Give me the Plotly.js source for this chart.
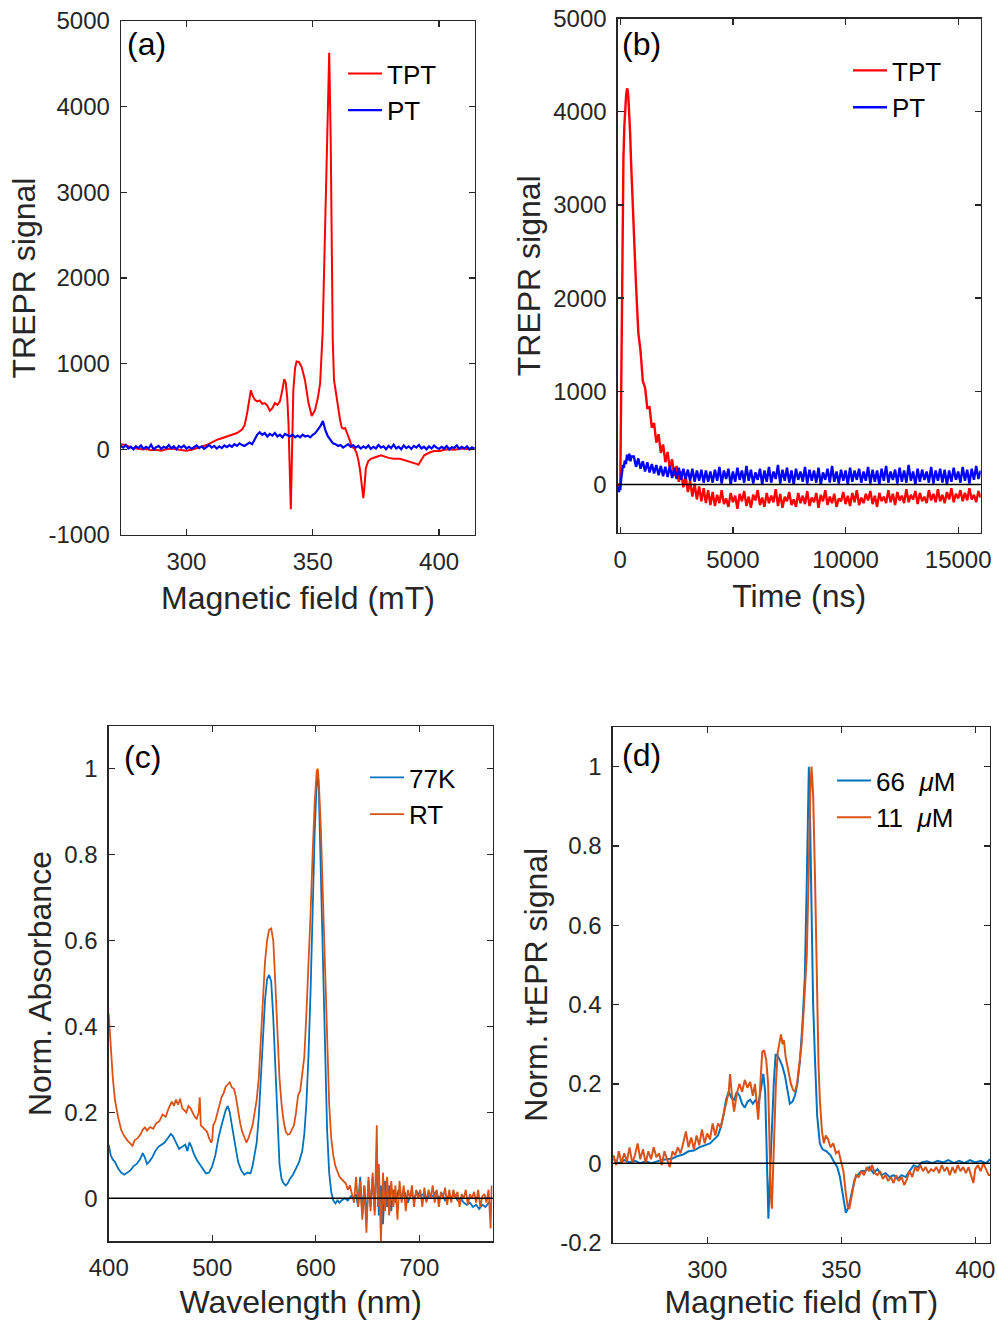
<!DOCTYPE html>
<html><head><meta charset="utf-8">
<script src="https://cdn.plot.ly/plotly-3.0.1.min.js"></script>
<style>html,body{margin:0;padding:0;background:#fff}#chart{width:997px;height:1320px}</style>
</head><body><div id="chart"></div>
<script>
// ---------- Panel (a): TREPR spectra ----------
const aTptField = [
 274,276,278,280,282,284,286,288,290,292,
 294,296,298,300,302,304,306,308,310,312,
 314,316,318,320,322,323,324,325,325.5,326,
 327,328,329,330,331,332,333,334,335,336,
 337,338,338.7,339.3,339.9,340.4,340.8,341.0,341.3,341.6,
 342.0,342.3,343.0,343.6,344.5,345.6,346.9,348.3,349.6,350.9,
 352,352.9,353.9,354.8,355.5,356,356.5,357.1,357.5,357.9,
 358.4,359.5,360.8,361.5,362.2,362.8,363.5,364.1,364.8,365.4,
 366.5,367.3,368.0,368.7,369.4,370.0,370.5,371.0,371.9,373,
 375,377,380,382,384.5,387,389,391,391.8,393,
 394.1,396,398,400.3,403,406,409,412,414];
const aTptSignal = [
 60,50,20,10,0,5,-10,-5,-15,0,
 10,0,-10,-15,-5,10,30,50,80,110,
 130,150,170,190,230,280,420,620,690,640,
 580,560,570,530,540,510,450,480,540,520,
 560,700,820,780,600,300,-200,-600,-700,-300,
 300,690,950,1025,1020,960,810,540,390,460,
 600,770,1360,2450,3600,4200,4630,3600,2450,1280,
 810,580,344,250,240,247,200,150,90,33,
 10,-40,-120,-240,-420,-570,-420,-220,-140,-110,
 -90,-70,-100,-110,-110,-130,-150,-170,-180,-120,
 -70,-40,-20,-20,0,-5,10,0,5];
const aPtField = [
 274,275,276,277,278,279,280,281,282,283,
 284,285,286,287,288,289,290,291,292,293,
 294,295,296,297,298,299,300,301,302,303,
 304,305,306,307,308,309,310,311,312,313,
 314,315,316,317,318,319,320,321,322,323,
 324,325,326,327,328,329,330,331,332,333,
 334,335,336,337,338,339,340,341,342,343,
 344,345,346,347,348,349,350,351,352,353,
 354,355,356,357,358,359,360,361,362,363,
 364,365,366,367,368,369,370,371,372,373,
 374,375,376,377,378,379,380,381,382,383,
 384,385,386,387,388,389,390,391,392,393,
 394,395,396,397,398,399,400,401,402,403,
 404,405,406,407,408,409,410,411,412,413,414];
const aPtSignal = [
 40,20,50,10,30,0,35,15,45,5,
 30,10,55,0,25,40,5,30,15,50,
 10,35,0,40,20,45,10,30,5,25,
 45,15,35,5,30,50,20,40,10,35,
 15,45,25,50,30,60,40,70,50,40,
 60,80,60,110,170,200,170,190,150,180,
 160,190,150,170,140,180,160,150,170,140,
 160,140,170,150,160,140,170,190,230,270,
 330,220,150,110,70,60,40,50,20,40,
 60,30,50,20,40,10,35,15,45,5,
 30,10,50,20,35,0,40,15,55,10,
 30,0,45,15,35,5,40,20,50,10,
 30,0,35,10,45,20,5,30,10,40,
 0,25,15,45,5,30,10,35,0,25,10];

// ---------- Panel (b): TREPR transients ----------
const bTptTime = [
 -100,-50,0,30,60,100,140,180,220,260,
 300,330,360,400,440,480,500,600,700,800,
 900,1000,1100,1200,1300,1400,1500,1600,1700,1800,
 1900,2000,2100,2200,2300,2400,2500,2600,2700,2800,
 2900,3000,3100,3200,3300,3400,3500,3600,3700,3800,
 3900,4000,
 4100,4200,4300,4400,4500,4600,4700,4800,4900,5000,
 5100,5200,5300,5400,5500,5600,5700,5800,5900,6000,
 6100,6200,6300,6400,6500,6600,6700,6800,6900,7000,
 7100,7200,7300,7400,7500,7600,7700,7800,7900,8000,
 8100,8200,8300,8400,8500,8600,8700,8800,8900,9000,
 9100,9200,9300,9400,9500,9600,9700,9800,9900,10000,
 10100,10200,10300,10400,10500,10600,10700,10800,10900,11000,
 11100,11200,11300,11400,11500,11600,11700,11800,11900,12000,
 12100,12200,12300,12400,12500,12600,12700,12800,12900,13000,
 13100,13200,13300,13400,13500,13600,13700,13800,13900,14000,
 14100,14200,14300,14400,14500,14600,14700,14800,14900,15000,
 15100,15200,15300,15400,15500,15600,15700,15800,15900,16000];
const bTptSignal = [
 10,-20,0,800,2000,2900,3500,3850,4050,4180,
 4250,4230,4150,4000,3750,3450,3330,2600,2130,1630,
 1430,1110,1040,820,830,610,660,450,540,340,
 430,240,350,170,270,90,200,30,140,-30,
 90,-80,40,-130,10,-160,-20,-180,-40,-200,
 -60,-220,
 -80,-230,-110,-200,-60,-210,-150,-240,-90,-190,
 -120,-260,-100,-180,-70,-230,-130,-250,-110,-170,
 -60,-220,-140,-240,-90,-200,-120,-190,-50,-230,
 -100,-250,-130,-180,-80,-220,-160,-240,-90,-200,
 -120,-210,-70,-230,-140,-190,-90,-250,-110,-180,
 -60,-220,-130,-200,-100,-240,-150,-180,-80,-210,
 -120,-230,-90,-190,-60,-220,-140,-200,-100,-170,
 -70,-210,-120,-240,-90,-180,-130,-200,-60,-190,
 -100,-220,-80,-170,-120,-200,-50,-190,-110,-160,
 -70,-210,-90,-180,-130,-200,-60,-170,-100,-190,
 -50,-180,-110,-200,-80,-160,-40,-190,-100,-150,
 -60,-180,-90,-170,-40,-160,-110,-190,-70,-140];
const bPtTime = [
 -100,-60,-30,0,40,80,120,160,200,250,
 300,350,400,450,500,
 600,700,800,900,1000,1100,1200,1300,1400,1500,
 1600,1700,1800,1900,2000,2100,2200,2300,2400,2500,
 2600,2700,2800,2900,3000,3100,3200,3300,3400,3500,
 3600,3700,3800,3900,4000,
 4100,4200,4300,4400,4500,4600,4700,4800,4900,5000,
 5100,5200,5300,5400,5500,5600,5700,5800,5900,6000,
 6100,6200,6300,6400,6500,6600,6700,6800,6900,7000,
 7100,7200,7300,7400,7500,7600,7700,7800,7900,8000,
 8100,8200,8300,8400,8500,8600,8700,8800,8900,9000,
 9100,9200,9300,9400,9500,9600,9700,9800,9900,10000,
 10100,10200,10300,10400,10500,10600,10700,10800,10900,11000,
 11100,11200,11300,11400,11500,11600,11700,11800,11900,12000,
 12100,12200,12300,12400,12500,12600,12700,12800,12900,13000,
 13100,13200,13300,13400,13500,13600,13700,13800,13900,14000,
 14100,14200,14300,14400,14500,14600,14700,14800,14900,15000,
 15100,15200,15300,15400,15500,15600,15700,15800,15900,16000];
const bPtSignal = [
 -20,-80,-40,-60,60,150,210,180,260,220,
 320,260,330,250,300,
 300,190,280,170,250,140,240,130,220,120,
 210,100,200,90,190,80,200,70,180,60,
 180,50,170,60,160,40,170,30,150,40,
 160,20,150,30,140,
 20,160,40,190,10,150,60,170,0,140,
 30,180,50,150,20,200,40,160,10,130,
 50,170,0,150,30,190,20,140,60,210,
 10,160,40,180,20,150,0,170,50,140,
 30,190,10,160,40,150,20,180,0,130,
 50,170,20,200,30,140,10,160,40,150,
 0,180,30,150,50,170,20,140,40,190,
 10,160,30,150,0,170,40,200,20,140,
 50,160,10,180,30,150,20,210,40,140,
 0,170,30,160,50,140,20,190,10,150,
 40,170,20,160,0,150,30,180,50,140,
 20,190,40,160,10,170,50,200,60,150];

// ---------- Panel (c): absorbance ----------
const cRtWl = [
 400,402,404,406,409,412,415,418,421,423,
 425,428,431,433,435,437,440,443,446,449,
 452,455,458,461,463,465,467,469,471,473,
 475,477,479,481,483,485,487,488,489,491,
 493,495,497,499,500,501,503,505,507,509,
 511,513,515,517,519,521,523,525,527,529,
 531,533,535,537,539,541,543,545,547,549,
 551,553,555,557,559,561,563,565,567,569,
 571,573,575,577,579,581,583,585,587,589,
 591,593,595,597,599,601,602,603,605,607,
 609,611,613,615,617,619,621,623,625,627,
 629,631,633,635,637,639,641,643,645,647,
 649,651,653,655,657,659,660,661,662,663,
 665,667,669,671,673,675,677,679,681,683,
 685,687,689,691,693,695,697,699,701,703,
 705,707,709,711,713,715,717,719,721,723,
 725,727,729,731,733,735,737,739,741,743,
 745,747,749,751,753,755,757,759,761,763,
 765,767,769,770];
const cRtAbs = [
 0.43,0.35,0.28,0.23,0.19,0.16,0.145,0.135,0.128,0.122,
 0.135,0.14,0.15,0.16,0.165,0.158,0.166,0.162,0.175,0.18,
 0.195,0.19,0.21,0.225,0.215,0.23,0.218,0.232,0.21,0.205,
 0.2,0.215,0.21,0.2,0.19,0.185,0.2,0.235,0.17,0.165,
 0.16,0.155,0.14,0.13,0.135,0.17,0.18,0.2,0.22,0.235,
 0.245,0.26,0.265,0.27,0.258,0.255,0.235,0.2,0.175,0.155,
 0.14,0.13,0.14,0.155,0.17,0.2,0.23,0.28,0.38,0.48,
 0.55,0.6,0.625,0.628,0.6,0.5,0.38,0.28,0.22,0.18,
 0.155,0.148,0.15,0.16,0.17,0.2,0.24,0.25,0.29,0.33,
 0.43,0.53,0.66,0.8,0.92,0.995,1.0,0.97,0.86,0.7,
 0.52,0.35,0.22,0.14,0.1,0.075,0.06,0.05,0.045,0.04,
 0.035,0.02,0.03,0.01,-0.01,0.05,-0.02,0.04,-0.05,0.03,
 -0.08,0.05,-0.03,0.06,-0.04,0.17,-0.02,0.08,-0.04,-0.1,
 0.06,-0.03,0.05,-0.04,0.04,-0.02,0.03,-0.05,0.04,-0.01,
 0.03,-0.03,0.02,0.0,0.03,-0.02,0.02,0.0,0.02,-0.02,
 0.025,-0.01,0.02,0.0,0.03,-0.01,0.02,-0.02,0.015,0.0,
 0.025,-0.015,0.02,-0.01,0.02,0.0,0.015,-0.02,0.01,0.0,
 0.02,-0.015,0.01,0.0,0.015,-0.01,0.02,-0.02,0.005,0.01,
 -0.01,0.02,-0.07,0.03];
const c77Wl = [
 400,402,404,406,409,412,415,418,421,424,
 427,430,433,435,437,439,442,445,448,451,
 454,457,460,462,464,466,468,471,474,476,
 478,480,482,485,488,491,494,497,500,503,
 506,509,511,513,515,517,519,521,523,525,
 528,531,534,537,539,541,543,545,547,549,
 551,553,555,557,559,561,563,565,567,569,
 571,573,575,578,581,584,587,589,591,593,
 595,597,599,601,602,603,605,607,609,611,
 613,615,617,619,621,623,625,628,631,634,
 637,639,641,643,645,647,649,651,653,655,
 657,659,661,663,665,667,669,671,673,675,
 677,680,683,686,689,692,695,698,701,704,
 707,710,713,716,719,722,725,728,731,734,
 737,740,743,746,749,752,755,758,761,764,
 767,770];
const c77Abs = [
 0.125,0.1,0.09,0.085,0.07,0.06,0.055,0.06,0.065,0.075,
 0.08,0.09,0.105,0.095,0.08,0.085,0.095,0.11,0.12,0.125,
 0.13,0.14,0.15,0.145,0.135,0.125,0.115,0.12,0.125,0.11,
 0.13,0.12,0.105,0.09,0.08,0.07,0.058,0.06,0.075,0.1,
 0.14,0.17,0.19,0.205,0.215,0.2,0.17,0.14,0.11,0.085,
 0.065,0.055,0.06,0.058,0.075,0.1,0.13,0.19,0.27,0.37,
 0.46,0.51,0.52,0.505,0.42,0.3,0.17,0.08,0.045,0.035,
 0.03,0.035,0.045,0.055,0.07,0.085,0.11,0.15,0.22,0.33,
 0.48,0.67,0.85,0.97,0.99,0.95,0.76,0.55,0.33,0.16,
 0.06,0.015,-0.005,-0.012,-0.005,-0.01,-0.005,0.0,-0.005,0.005,
 0.0,0.01,-0.02,0.05,-0.04,0.03,-0.05,0.04,-0.02,0.05,
 -0.03,0.09,-0.04,0.03,-0.06,0.04,-0.02,0.03,-0.03,0.02,
 -0.01,0.02,0.0,0.015,-0.01,0.01,0.0,0.015,0.005,0.01,
 -0.005,0.01,0.005,0.015,0.0,0.01,-0.005,0.005,0.0,0.01,
 -0.005,0.0,-0.01,-0.015,-0.01,-0.02,-0.015,-0.025,-0.015,-0.02,
 -0.01,-0.015];

// ---------- Panel (d): normalised trEPR ----------
const d66Field = [
 265,267,269,271,273,275,277,279,281,283,
 285,287,289,291,293,295,297,299,301,302.5,
 304,305,306,307,308,309,310,311,312,313,
 314,315,316,317,318,319,320,320.9,321.6,322.2,
 322.8,323.3,324,324.8,325.5,326.3,327.1,328,329,330,
 330.8,331.8,332.7,333.6,334.6,335.5,336.4,337.1,337.6,337.9,
 338.4,338.9,339.5,340.2,341,342,343,344.5,346,347,
 348.5,349.5,350.5,351.7,352.8,353.9,355,356,357.5,359,
 360.5,362,363.5,365,366.5,368,369.5,371,372.5,374,
 375.5,377,378.5,380,382,384,386,388,390,392,
 394,396,398,400,402,404,405.5];
const d66Signal = [
 0.01,0.0,0.008,0.002,0.006,0.0,0.005,0.0,0.004,0.008,
 0.01,0.012,0.018,0.022,0.03,0.032,0.04,0.045,0.05,0.06,
 0.07,0.09,0.12,0.16,0.18,0.165,0.16,0.18,0.17,0.15,
 0.14,0.155,0.16,0.15,0.16,0.145,0.19,0.225,0.18,0.05,
 -0.14,-0.05,0.07,0.2,0.275,0.27,0.26,0.245,0.22,0.18,
 0.15,0.155,0.17,0.2,0.26,0.35,0.47,0.7,0.95,1.0,
 0.85,0.6,0.4,0.26,0.12,0.05,0.035,0.03,0.02,0.007,
 -0.01,-0.035,-0.08,-0.125,-0.11,-0.07,-0.04,-0.03,-0.02,-0.02,
 -0.01,-0.025,-0.015,-0.03,-0.025,-0.035,-0.03,-0.04,-0.03,-0.035,
 -0.02,-0.005,-0.01,0.002,0.005,0.0,0.006,0.002,0.008,0.0,
 0.006,0.0,0.008,0.002,0.006,0.0,0.01];
const d11Field = [
 265,266,267,268,269,270,271,272,273,274,
 275,276,277,278,279,280,281,282,283,284,
 285,286,287,288,289,290,291,292,293,294,
 295,296,297,298,299,300,301,302,303,304,
 305,306,307,308,308.5,309.2,310,311,312,313,
 314,315,316,317,317.8,318.5,319,319.8,320.5,321.2,
 322,322.7,323.2,323.7,324.1,324.5,325,325.6,326.3,327,
 327.5,328.1,328.6,329.2,329.8,330.5,331.2,332,332.7,333.5,
 334.3,335.2,336.1,337.1,337.8,338.4,338.9,339.5,340.2,340.9,
 341.5,342,342.8,343.5,344.2,345.1,346,347,348,349,
 350,350.8,351.6,352.4,353,353.6,354.5,355.5,356.5,357.5,
 358.5,359.5,360.5,361.5,362.5,363.5,364.5,365.5,366.5,367.5,
 368.5,369.5,370.5,371.5,372.5,373.5,374.5,375.5,376.5,377.5,
 378.5,379.5,380.5,381.5,382.5,383.5,384.5,385.5,386.5,387.5,
 388.5,389.5,390.5,391.5,392.5,393.5,394.5,395.5,396.5,397.5,
 398.5,399.3,400,401,402,403,404,405,405.5];
const d11Signal = [
 0.02,-0.005,0.03,0.0,0.025,0.005,0.04,0.0,0.02,0.05,
 0.01,0.035,0.0,0.03,0.01,0.04,0.015,0.025,-0.005,0.03,
 0.01,-0.01,0.03,0.02,0.04,0.025,0.05,0.08,0.04,0.065,
 0.035,0.07,0.045,0.085,0.05,0.075,0.06,0.1,0.07,0.1,
 0.09,0.12,0.15,0.18,0.225,0.17,0.13,0.175,0.2,0.18,
 0.21,0.19,0.205,0.17,0.2,0.14,0.11,0.2,0.28,0.285,
 0.26,0.2,0.05,-0.08,-0.115,-0.03,0.08,0.2,0.28,0.31,
 0.325,0.3,0.31,0.27,0.25,0.22,0.2,0.185,0.18,0.2,
 0.25,0.3,0.4,0.52,0.72,0.93,1.0,0.93,0.72,0.45,
 0.25,0.16,0.08,0.05,0.07,0.06,0.04,0.05,0.025,0.03,
 0.005,-0.02,-0.07,-0.11,-0.115,-0.09,-0.06,-0.03,-0.035,-0.02,
 -0.03,-0.01,-0.02,-0.005,-0.025,-0.03,-0.02,-0.04,-0.03,-0.045,
 -0.035,-0.05,-0.03,-0.045,-0.035,-0.055,-0.04,-0.02,-0.035,-0.01,
 -0.02,-0.005,-0.02,-0.01,-0.025,-0.015,-0.02,-0.01,-0.025,-0.005,
 -0.02,-0.01,-0.03,-0.01,-0.025,-0.005,-0.02,-0.01,-0.025,-0.01,
 -0.03,-0.05,-0.015,-0.005,-0.02,0.0,-0.015,-0.03,-0.03];

// ---------- tick labels / names ----------
const aYTicks = [-1000,0,1000,2000,3000,4000,5000];
const aYTickText = ['-1000','0','1000','2000','3000','4000','5000'];
const aXTicks = [300,350,400];
const bYTicks = [0,1000,2000,3000,4000,5000];
const bXTicks = [0,5000,10000,15000];
const bXTickText = ['0','5000','10000','15000'];
const cYTicks = [0,0.2,0.4,0.6,0.8,1];
const cXTicks = [400,500,600,700];
const dYTicks = [-0.2,0,0.2,0.4,0.6,0.8,1];
const dYTickText = ['-0.2','0','0.2','0.4','0.6','0.8','1'];
const dXTicks = [300,350,400];
const seriesNames = {tpt:'TPT', pt:'PT', k77:'77K', rt:'RT',
  c66:'66\u00a0\u00a0<i>\u03bc</i>M', c11:'11\u00a0\u00a0<i>\u03bc</i>M'};

// ---------- layout ----------
const W = 997, H = 1320;
const FONT = 'Liberation Sans, Arial, Helvetica, sans-serif';
const INK = '#262626';
const RED = '#ff0000', BLUE = '#0000ff', MBLUE = '#0072bd', MORANGE = '#d95319';

function dx(a, b) { return [a / W, b / W]; }
function dy(top, bottom) { return [1 - bottom / H, 1 - top / H]; }

function axis(extra) {
  return Object.assign({
    showline: true, mirror: 'ticks', linecolor: INK, linewidth: 1.3,
    ticks: 'inside', ticklen: 6, tickwidth: 1.3, tickcolor: INK,
    showgrid: false, zeroline: false, automargin: false,
    tickfont: {family: FONT, size: 24, color: INK},
    ticklabelstandoff: 5, tickmode: 'array'
  }, extra);
}
function ttl(text, standoff) {
  return {text: text, standoff: standoff, font: {family: FONT, size: 32, color: INK}};
}

const traces = [
  {x: aTptField, y: aTptSignal, xaxis: 'x', yaxis: 'y', name: seriesNames.tpt, legend: 'legend',
   mode: 'lines', line: {color: RED, width: 2}},
  {x: aPtField, y: aPtSignal, xaxis: 'x', yaxis: 'y', name: seriesNames.pt, legend: 'legend',
   mode: 'lines', line: {color: BLUE, width: 2.2}},
  {x: bTptTime, y: bTptSignal, xaxis: 'x2', yaxis: 'y2', name: seriesNames.tpt, legend: 'legend2',
   mode: 'lines', line: {color: RED, width: 2.4}},
  {x: bPtTime, y: bPtSignal, xaxis: 'x2', yaxis: 'y2', name: seriesNames.pt, legend: 'legend2',
   mode: 'lines', line: {color: BLUE, width: 2.4}},
  {x: c77Wl, y: c77Abs, xaxis: 'x3', yaxis: 'y3', name: seriesNames.k77, legend: 'legend3',
   mode: 'lines', line: {color: MBLUE, width: 1.8}},
  {x: cRtWl, y: cRtAbs, xaxis: 'x3', yaxis: 'y3', name: seriesNames.rt, legend: 'legend3',
   mode: 'lines', line: {color: MORANGE, width: 1.8}},
  {x: d66Field, y: d66Signal, xaxis: 'x4', yaxis: 'y4', name: seriesNames.c66, legend: 'legend4',
   mode: 'lines', line: {color: MBLUE, width: 2}},
  {x: d11Field, y: d11Signal, xaxis: 'x4', yaxis: 'y4', name: seriesNames.c11, legend: 'legend4',
   mode: 'lines', line: {color: MORANGE, width: 2}}
];

function leg(left, top) {
  return {x: left / W, y: 1 - top / H, xanchor: 'left', yanchor: 'top',
    bgcolor: 'rgba(0,0,0,0)', borderwidth: 0, itemwidth: 34,
    font: {family: FONT, size: 26, color: '#000'}, tracegroupgap: 0};
}
function label(text, left, midY) {
  return {text: text, xref: 'paper', yref: 'paper', x: left / W, y: 1 - midY / H,
    xanchor: 'left', yanchor: 'middle', showarrow: false,
    font: {family: FONT, size: 32, color: '#000'}};
}
function zeroLine(xa, ya) {
  return {type: 'line', xref: xa + ' domain', yref: ya, x0: 0, x1: 1, y0: 0, y1: 0,
    line: {color: '#000', width: 1.5}, layer: 'above'};
}

const layout = {
  width: W, height: H, margin: {l: 0, r: 0, t: 0, b: 0},
  paper_bgcolor: '#fff', plot_bgcolor: '#fff', font: {family: FONT, color: INK},
  xaxis: axis({domain: dx(121, 475), range: [274.1, 414.2], tickvals: aXTicks, anchor: 'y',
    title: ttl('Magnetic field (mT)', 12)}),
  yaxis: axis({domain: dy(21, 535), range: [-1000, 5000], tickvals: aYTicks, ticktext: aYTickText, anchor: 'x',
    title: ttl('TREPR signal', 3)}),
  xaxis2: axis({domain: dx(617.7, 980.7), range: [-115, 16000], tickvals: bXTicks, ticktext: bXTickText, anchor: 'y2',
    title: ttl('Time (ns)', 12)}),
  yaxis2: axis({domain: dy(18.5, 533), range: [-520, 5000], tickvals: bYTicks, anchor: 'x2',
    title: ttl('TREPR signal', 3)}),
  xaxis3: axis({domain: dx(108.7, 492.7), range: [400, 771], tickvals: cXTicks, anchor: 'y3',
    title: ttl('Wavelength (nm)', 12)}),
  yaxis3: axis({domain: dy(725.8, 1241.3), range: [-0.1, 1.1], tickvals: cYTicks, anchor: 'x3',
    title: ttl('Norm. Absorbance', 3)}),
  xaxis4: axis({domain: dx(612.7, 990), range: [264.7, 405.5], tickvals: dXTicks, anchor: 'y4',
    title: ttl('Magnetic field (mT)', 12)}),
  yaxis4: axis({domain: dy(727, 1242.5), range: [-0.2, 1.1], tickvals: dYTicks, ticktext: dYTickText, anchor: 'x4',
    title: ttl('Norm. trEPR signal', 3)}),
  showlegend: true,
  legend: leg(343, 50),
  legend2: leg(848, 47),
  legend3: leg(365, 754),
  legend4: leg(832, 757),
  annotations: [
    label('(a)', 125, 44), label('(b)', 620, 44),
    label('(c)', 122, 757), label('(d)', 620, 755)
  ],
  shapes: [zeroLine('x2', 'y2'), zeroLine('x3', 'y3'), zeroLine('x4', 'y4')]
};

Plotly.newPlot('chart', traces, layout, {staticPlot: true, displayModeBar: false});
</script></body></html>
